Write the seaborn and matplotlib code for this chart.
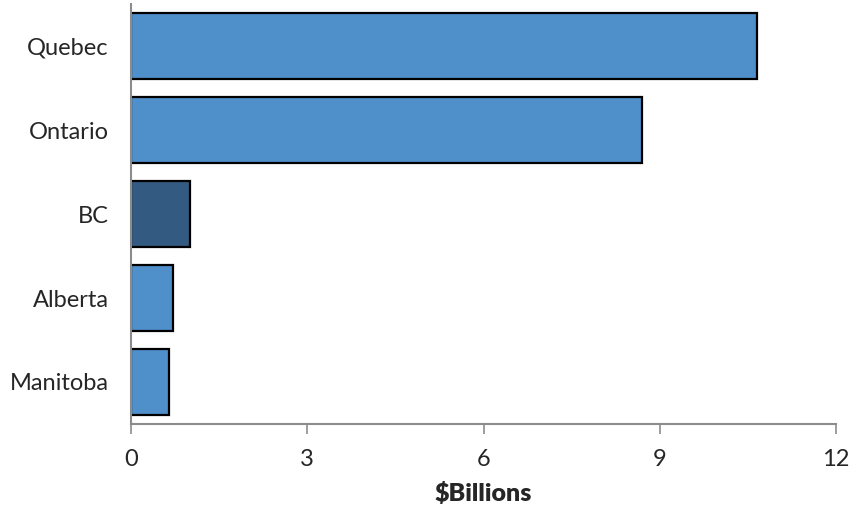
import matplotlib
matplotlib.use("Agg")
import matplotlib.pyplot as plt
import seaborn as sns
import pandas as pd

# valori ($ miliardi)
province = ["Quebec", "Ontario", "BC", "Alberta", "Manitoba"]
valori = [10.65, 8.70, 1.0, 0.72, 0.65]
colori = ["#4F8FCA", "#4F8FCA", "#335A80", "#4F8FCA", "#4F8FCA"]
tick_x = [0, 3, 6, 9, 12]

df = pd.DataFrame({"provincia": province, "valore": valori})

sns.set_style("white")
plt.rcParams["font.family"] = ["Lato", "DejaVu Sans"]

fig = plt.figure(figsize=(8.49, 5.08), dpi=100)
ax = fig.add_axes([0.1543, 0.1654, 0.8304, 0.8266])

sns.barplot(data=df, x="valore", y="provincia", hue="provincia",
            palette=dict(zip(province, colori)), legend=False, saturation=1,
            edgecolor="black", linewidth=1.6, width=0.78, ax=ax)

ax.set_xlim(0, 12)
ax.set_ylim(4.5, -0.5)
ax.set_xticks(tick_x)
ax.set_xticklabels([str(t) for t in tick_x], fontsize=17)
ax.tick_params(axis="y", labelsize=17, length=0, pad=16)
ax.tick_params(axis="x", length=7, width=1.2, color="#8c8c8c", direction="out",
               bottom=True, pad=11)
ax.set_ylabel("")
ax.set_xlabel("$Billions", fontsize=18, fontweight="heavy", labelpad=9)

for s in ["top", "right"]:
    ax.spines[s].set_visible(False)
for s in ["left", "bottom"]:
    ax.spines[s].set_color("#8c8c8c")
    ax.spines[s].set_linewidth(1.5)

fig.savefig("out.png", dpi=100)
